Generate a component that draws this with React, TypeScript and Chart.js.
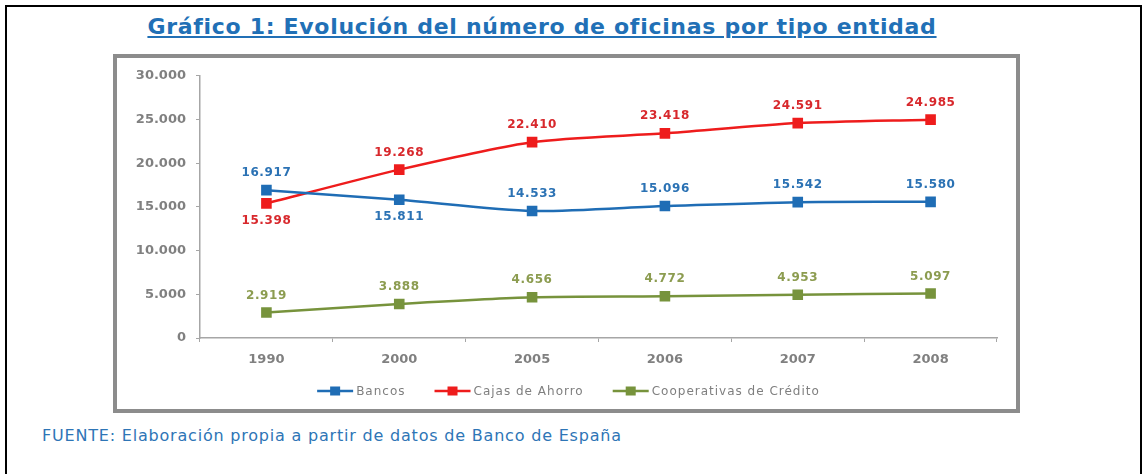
import { useEffect, useRef } from "react";
import { Chart, registerables } from "chart.js";

Chart.register(...registerables);

const categories = ["1990", "2000", "2005", "2006", "2007", "2008"];
const bancos = [16917, 15811, 14533, 15096, 15542, 15580];
const cajas = [15398, 19268, 22410, 23418, 24591, 24985];
const cooperativas = [2919, 3888, 4656, 4772, 4953, 5097];
const yTicks = [0, 5000, 10000, 15000, 20000, 25000, 30000];
const seriesNames = ["Bancos", "Cajas de Ahorro", "Cooperativas de Crédito"];
const bancosLabelPos = ["top", "bottom", "top", "top", "top", "top"];
const cajasLabelPos = ["bottom", "top", "top", "top", "top", "top"];
const coopLabelPos = ["top", "top", "top", "top", "top", "top"];

const lineColors = ["#1F6DB5", "#EE1C1C", "#77933C"];
const labelColors = ["#2B72B4", "#D8282C", "#8C9C50"];
const labelPositions = [bancosLabelPos, cajasLabelPos, coopLabelPos];

const fmt = (v: number) => String(Math.round(v)).replace(/\B(?=(\d{3})+(?!\d))/g, ".");

const FONT = "'DejaVu Sans', Verdana, sans-serif";

const dataLabelPlugin = {
  id: "dataLabelPlugin",
  afterDatasetsDraw(chart: any) {
    const ctx = chart.ctx as CanvasRenderingContext2D;
    ctx.save();
    ctx.font = `bold 12px ${FONT}`;
    (ctx as any).letterSpacing = "0.6px";
    ctx.textAlign = "center";
    ctx.textBaseline = "middle";
    chart.data.datasets.forEach((ds: any, i: number) => {
      const meta = chart.getDatasetMeta(i);
      meta.data.forEach((pt: any, j: number) => {
        const pos = labelPositions[i][j];
        const y = pt.y + (pos === "top" ? -17 : 17);
        ctx.fillStyle = labelColors[i];
        ctx.fillText(fmt(ds.data[j]), pt.x, y);
      });
    });
    ctx.restore();
  },
};

const legendPlugin = {
  id: "customLegend",
  afterDraw(chart: any) {
    const ctx = chart.ctx as CanvasRenderingContext2D;
    ctx.save();
    ctx.font = `12px ${FONT}`;
    (ctx as any).letterSpacing = "1px";
    ctx.textBaseline = "middle";
    const symW = 36;
    const gapText = 3;
    const gapItem = 29;
    const widths = seriesNames.map((n) => ctx.measureText(n).width);
    const total =
      widths.reduce((a, b) => a + b, 0) + seriesNames.length * (symW + gapText) + gapItem * (seriesNames.length - 1);
    let x = chart.width / 2 + 2 - total / 2;
    const y = 333;
    seriesNames.forEach((n, i) => {
      ctx.strokeStyle = lineColors[i];
      ctx.lineWidth = 2.5;
      ctx.beginPath();
      ctx.moveTo(x, y);
      ctx.lineTo(x + symW, y);
      ctx.stroke();
      ctx.fillStyle = lineColors[i];
      ctx.fillRect(x + symW / 2 - 5, y - 4.5, 10, 9);
      ctx.fillStyle = "#7F7F7F";
      ctx.textAlign = "left";
      ctx.fillText(n, x + symW + gapText, y + 0.5);
      x += symW + gapText + widths[i] + gapItem;
    });
    ctx.restore();
  },
};

export default function App() {
  const ref = useRef<HTMLCanvasElement | null>(null);

  useEffect(() => {
    if (!ref.current) return;
    const datasets = [bancos, cajas, cooperativas].map((d, i) => ({
      label: seriesNames[i],
      data: d,
      borderColor: lineColors[i],
      backgroundColor: lineColors[i],
      borderWidth: 2.5,
      pointStyle: "rect" as const,
      pointRadius: 7.5,
      pointBorderWidth: 0,
      pointBackgroundColor: lineColors[i],
      tension: 0.25,
      fill: false,
    }));
    const tickFont = { family: FONT, size: 13, weight: "bold" as const };
    const chart = new Chart(ref.current, {
      type: "line",
      data: { labels: categories, datasets },
      options: {
        animation: false,
        responsive: false,
        maintainAspectRatio: false,
        layout: { padding: { left: 0, right: 19, top: 14, bottom: 0 } },
        plugins: { legend: { display: false }, tooltip: { enabled: false }, title: { display: false } },
        scales: {
          x: {
            type: "category",
            offset: true,
            afterFit: (s: any) => {
              s.height = 71;
            },
            grid: {
              offset: true,
              drawOnChartArea: false,
              drawTicks: true,
              tickLength: 4,
              color: "#A6A6A6",
            },
            border: { display: true, color: "#A6A6A6", width: 1.5 },
            ticks: {
              color: "#808080",
              font: tickFont,
              padding: 10,
            },
          },
          y: {
            min: 0,
            max: 30000,
            afterFit: (s: any) => {
              s.width = 83;
            },
            afterBuildTicks: (s: any) => {
              s.ticks = yTicks.map((v) => ({ value: v }));
            },
            grid: {
              drawOnChartArea: false,
              drawTicks: true,
              tickLength: 4,
              color: "#A6A6A6",
            },
            border: { display: true, color: "#A6A6A6", width: 1.5 },
            ticks: {
              color: "#808080",
              font: tickFont,
              padding: 10,
              callback: (v: any) => fmt(Number(v)),
            },
          },
        },
      },
      plugins: [dataLabelPlugin, legendPlugin],
    });
    return () => chart.destroy();
  }, []);

  return (
    <div
      style={{
        position: "fixed",
        left: 0,
        top: 0,
        width: 1144,
        height: 474,
        background: "#fff",
        overflow: "hidden",
      }}
    >
      <div
        style={{
          position: "absolute",
          left: 5,
          top: 5,
          width: 1137,
          height: 500,
          border: "2px solid #000",
          boxSizing: "border-box",
        }}
      />
      <div
        style={{
          position: "absolute",
          left: 0,
          width: 1084,
          top: 14,
          textAlign: "center",
          fontFamily: FONT,
          fontWeight: "bold",
          fontSize: 22,
          letterSpacing: "0.7px",
          color: "#2170B6",
          textDecoration: "underline",
          whiteSpace: "nowrap",
          lineHeight: "26px",
        }}
      >
        Gráfico 1: Evolución del número de oficinas por tipo entidad
      </div>
      <div
        style={{
          position: "absolute",
          left: 113,
          top: 54,
          width: 907,
          height: 359,
          border: "4px solid #8C8C8C",
          boxSizing: "border-box",
          background: "#fff",
        }}
      >
        <canvas ref={ref} width={899} height={351} style={{ display: "block", width: 899, height: 351 }} />
      </div>
      <div
        style={{
          position: "absolute",
          left: 42,
          top: 426,
          fontFamily: FONT,
          fontSize: 16,
          letterSpacing: "0.8px",
          color: "#2E75B6",
          whiteSpace: "nowrap",
          lineHeight: "20px",
        }}
      >
        FUENTE: Elaboración propia a partir de datos de Banco de España
      </div>
    </div>
  );
}
